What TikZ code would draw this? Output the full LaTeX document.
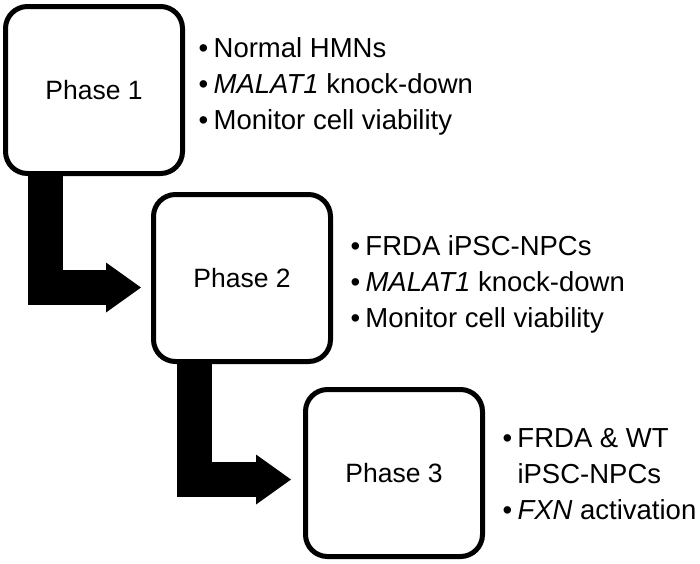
\documentclass[tikz,border=0pt]{standalone}
\usepackage{fontspec}
\setmainfont{Liberation Sans}
\usetikzlibrary{arrows.meta,calc}
\newcommand{\mybul}{\makebox[15pt][l]{•}}
\begin{document}
\begin{tikzpicture}[x=1pt,y=-1pt,
  phasebox/.style={draw=black, line width=5pt, rounded corners=22pt,
    minimum width=177pt, minimum height=167pt, fill=white, inner sep=0pt,
    font=\fontsize{26.5}{32}\selectfont},
  bigarrow/.style={draw=black, line width=35pt, line join=miter,
    -{Triangle[length=35pt,width=50pt,line width=0pt]}},
  bullettext/.style={anchor=base west, inner sep=0pt,
    font=\fontsize{27.5}{36}\selectfont}]
\useasboundingbox (0,0) rectangle (700,563);
\fill[white] (0,0) rectangle (700,563);

\node[phasebox] (p1) at (94,90) {Phase 1};
\node[phasebox] (p2) at (242,278) {Phase 2};
\node[phasebox] (p3) at (394,473) {Phase 3};

\draw[bigarrow] ($(p1.south west)+(42,-2)$) |- ($(p2.west)+(-10,9.5)$);
\draw[bigarrow] ($(p2.south west)+(43.5,-2)$) |- ($(p3.west)+(-12,6.5)$);

\node[bullettext] (t1a) at (198.5,57) {\mybul Normal HMNs};
\node[bullettext] (t1b) at (198.5,93) {\mybul\textit{MALAT1} knock-down};
\node[bullettext] (t1c) at (198.5,129) {\mybul Monitor cell viability};

\node[bullettext] (t2a) at (350.3,255) {\mybul FRDA iPSC-NPCs};
\node[bullettext] (t2b) at (350.3,291) {\mybul\textit{MALAT1} knock-down};
\node[bullettext] (t2c) at (350.3,327) {\mybul Monitor cell viability};

\node[bullettext] (t3a) at (502.3,447) {\mybul FRDA \& WT};
\node[bullettext] (t3b) at (502.3,483) {\makebox[15pt]{}iPSC-NPCs};
\node[bullettext] (t3c) at (502.3,519) {\mybul\textit{FXN} activation};
\end{tikzpicture}
\end{document}
